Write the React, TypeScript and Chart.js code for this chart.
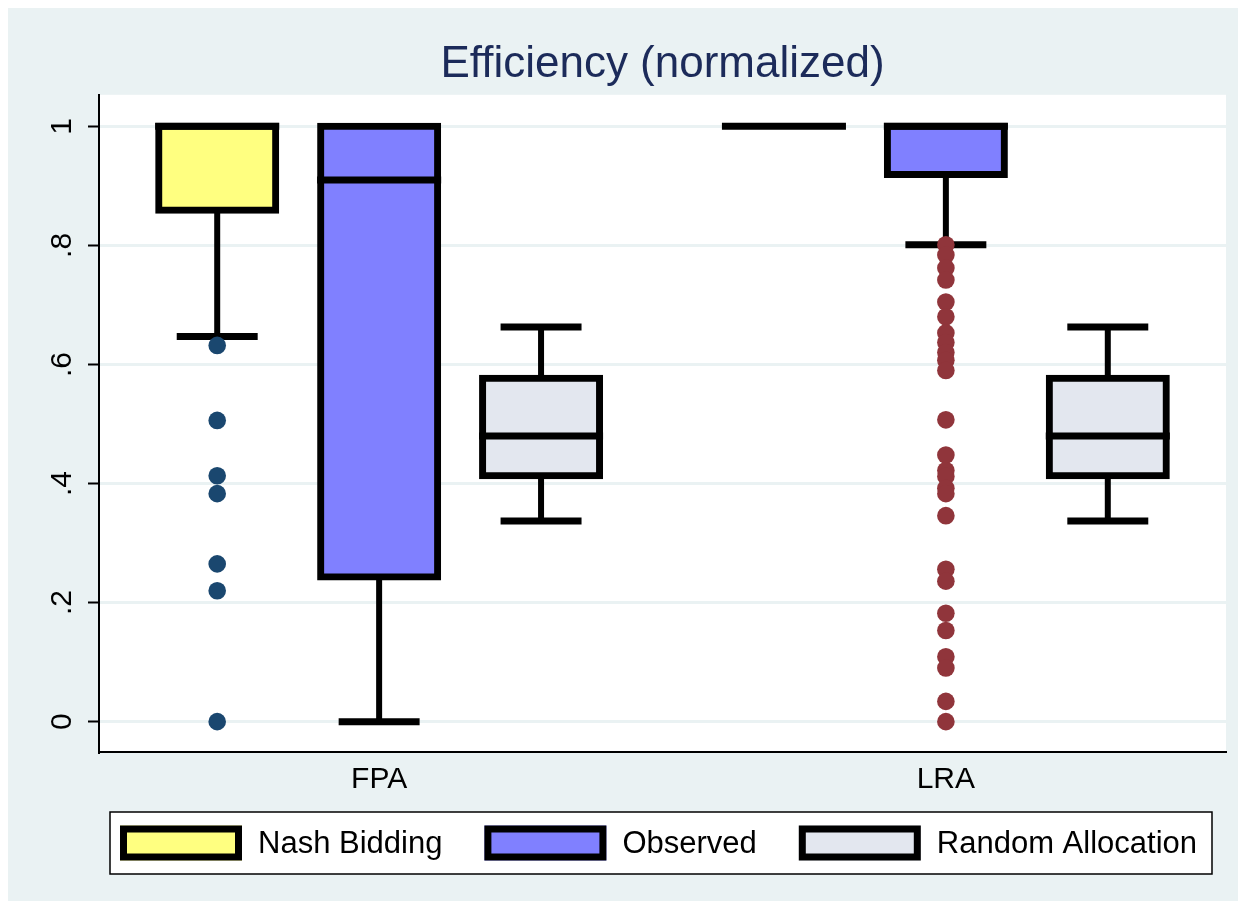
import React, { useEffect, useRef } from 'react';
import { Chart, registerables } from 'chart.js';

Chart.register(...registerables);

const FONT = "'Liberation Sans', Arial, Helvetica, sans-serif";

// categories on the x axis and their positions on the linear x scale
const CATEGORIES = ['FPA', 'LRA'];
const CATEGORY_POS = [2, 5.5];

// series (one box per category)
const SERIES = ['Nash Bidding', 'Observed', 'Random Allocation'];
const SERIES_OFFSET = [-1, 0, 1];
const SERIES_FILL = ['#ffff80', '#8080ff', '#e3e7ef'];

// box statistics, values are [FPA, LRA]
const NASH_LOW = [0.647, 1];
const NASH_Q1 = [0.859, 1];
const NASH_MED = [1, 1];
const NASH_Q3 = [1, 1];
const NASH_HIGH = [1, 1];

const OBS_LOW = [0, 0.801];
const OBS_Q1 = [0.243, 0.919];
const OBS_MED = [0.91, 1];
const OBS_Q3 = [1, 1];
const OBS_HIGH = [1, 1];

const RAND_LOW = [0.337, 0.337];
const RAND_Q1 = [0.413, 0.413];
const RAND_MED = [0.48, 0.48];
const RAND_Q3 = [0.577, 0.577];
const RAND_HIGH = [0.663, 0.663];

// outside values
const OUTLIERS_NASH_FPA = [0.632, 0.506, 0.413, 0.383, 0.265, 0.22, 0];
const OUTLIERS_OBS_LRA = [
  0.801, 0.784, 0.762, 0.742, 0.705, 0.68, 0.653, 0.637, 0.62, 0.607, 0.59,
  0.507, 0.448, 0.422, 0.412, 0.392, 0.383, 0.346, 0.256, 0.236, 0.182,
  0.153, 0.109, 0.09, 0.034, 0,
];
const OUTLIER_COLOR_FPA = '#1a476f';
const OUTLIER_COLOR_LRA = '#90353b';

// y axis
const Y_TICKS = [0, 0.2, 0.4, 0.6, 0.8, 1];
const Y_TICK_LABELS = ['0', '.2', '.4', '.6', '.8', '1'];
const Y_MIN = -0.051;
const Y_MAX = 1.053;
const X_MIN = 0.27;
const X_MAX = 7.23;

const TITLE = 'Efficiency (normalized)';

// geometry of box elements (in x-scale units / pixels)
const BOX_PX = 117;
const BOX_INFLATE = 3.5;
const BOX_HALF = 0.383;
const CAP_HALF = 0.25;

const STATS = [
  { low: NASH_LOW, q1: NASH_Q1, med: NASH_MED, q3: NASH_Q3, high: NASH_HIGH },
  { low: OBS_LOW, q1: OBS_Q1, med: OBS_MED, q3: OBS_Q3, high: OBS_HIGH },
  { low: RAND_LOW, q1: RAND_Q1, med: RAND_MED, q3: RAND_Q3, high: RAND_HIGH },
];

function buildDatasets(): any[] {
  const boxes = SERIES.map((name, s) => ({
    type: 'bar',
    label: name,
    order: 3,
    grouped: false,
    barThickness: BOX_PX,
    inflateAmount: BOX_INFLATE,
    data: CATEGORIES.map((_, c) => ({
      x: CATEGORY_POS[c] + SERIES_OFFSET[s],
      y: [STATS[s].q1[c], STATS[s].q3[c]],
    })),
    backgroundColor: SERIES_FILL[s],
    borderColor: '#000000',
    borderWidth: 7,
    borderSkipped: false,
  }));

  const whisker: any[] = [];
  const caps: any[] = [];
  const medians: any[] = [];
  SERIES.forEach((_, s) => {
    CATEGORIES.forEach((__, c) => {
      const x = CATEGORY_POS[c] + SERIES_OFFSET[s];
      const st = STATS[s];
      if (st.low[c] < st.q1[c]) {
        whisker.push({ x, y: st.q1[c] }, { x, y: st.low[c] }, { x, y: null });
        caps.push({ x: x - CAP_HALF, y: st.low[c] }, { x: x + CAP_HALF, y: st.low[c] }, { x, y: null });
      }
      if (st.high[c] > st.q3[c]) {
        whisker.push({ x, y: st.q3[c] }, { x, y: st.high[c] }, { x, y: null });
        caps.push({ x: x - CAP_HALF, y: st.high[c] }, { x: x + CAP_HALF, y: st.high[c] }, { x, y: null });
      }
      medians.push({ x: x - BOX_HALF, y: st.med[c] }, { x: x + BOX_HALF, y: st.med[c] }, { x, y: null });
    });
  });

  const lineBase = {
    type: 'line',
    borderColor: '#000000',
    pointRadius: 0,
    pointHoverRadius: 0,
    tension: 0,
    fill: false,
    spanGaps: false,
    borderCapStyle: 'butt',
  };

  return [
    {
      type: 'line',
      label: 'outliers FPA',
      order: 0,
      showLine: false,
      data: OUTLIERS_NASH_FPA.map((v) => ({ x: CATEGORY_POS[0] + SERIES_OFFSET[0], y: v })),
      pointRadius: 8.8,
      pointHoverRadius: 8.8,
      pointBorderWidth: 0,
      pointBackgroundColor: OUTLIER_COLOR_FPA,
      pointBorderColor: OUTLIER_COLOR_FPA,
    },
    {
      type: 'line',
      label: 'outliers LRA',
      order: 0,
      showLine: false,
      data: OUTLIERS_OBS_LRA.map((v) => ({ x: CATEGORY_POS[1] + SERIES_OFFSET[1], y: v })),
      pointRadius: 8.8,
      pointHoverRadius: 8.8,
      pointBorderWidth: 0,
      pointBackgroundColor: OUTLIER_COLOR_LRA,
      pointBorderColor: OUTLIER_COLOR_LRA,
    },
    { ...lineBase, label: 'medians', order: 1, borderWidth: 7, data: medians },
    { ...lineBase, label: 'caps', order: 2, borderWidth: 7, data: caps },
    { ...lineBase, label: 'whiskers', order: 2, borderWidth: 6, data: whisker },
    ...boxes,
  ];
}

const backgroundPlugin = {
  id: 'stataBackground',
  beforeDraw(chart: any) {
    const { ctx, chartArea, width, height } = chart;
    ctx.save();
    ctx.fillStyle = '#eaf2f3';
    ctx.fillRect(0, 0, width, height);
    ctx.fillStyle = '#ffffff';
    ctx.fillRect(chartArea.left, chartArea.top, chartArea.right - chartArea.left, chartArea.bottom - chartArea.top);
    ctx.restore();
  },
};

const yLabelPlugin = {
  id: 'rotatedYLabels',
  afterDraw(chart: any) {
    const { ctx } = chart;
    const ys = chart.scales.y;
    ctx.save();
    ctx.font = `30px ${FONT}`;
    ctx.fillStyle = '#000000';
    ctx.textAlign = 'center';
    ctx.textBaseline = 'alphabetic';
    const baseX = ys.right - 28;
    Y_TICKS.forEach((v, i) => {
      const py = ys.getPixelForValue(v);
      ctx.save();
      ctx.translate(baseX, py);
      ctx.rotate(-Math.PI / 2);
      ctx.fillText(Y_TICK_LABELS[i], 0, 0);
      ctx.restore();
    });
    ctx.restore();
  },
};

const legendPlugin = {
  id: 'boxLegend',
  afterDraw(chart: any) {
    const { ctx, chartArea } = chart;
    const xs = chart.scales.x;
    ctx.save();
    ctx.font = `31px ${FONT}`;
    const keyW = 122;
    const keyH = 35;
    const keyGap = 16;
    const itemGap = 42;
    const padL = 10;
    const padR = 15;
    const widths = SERIES.map((t) => ctx.measureText(t).width);
    const total =
      widths.reduce((a, w) => a + keyW + keyGap + w, 0) + itemGap * (SERIES.length - 1);
    const cx = (chartArea.left + chartArea.right) / 2 - 4;
    const frameTop = xs.bottom + 10;
    const frameH = 62;
    const cy = frameTop + frameH / 2;
    let x = cx - total / 2;

    // frame
    ctx.fillStyle = '#ffffff';
    ctx.fillRect(x - padL, frameTop, total + padL + padR, frameH);
    ctx.strokeStyle = '#000000';
    ctx.lineWidth = 1.5;
    ctx.strokeRect(x - padL, frameTop, total + padL + padR, frameH);

    SERIES.forEach((name, s) => {
      const top = cy - keyH / 2;
      ctx.fillStyle = SERIES_FILL[s];
      ctx.fillRect(x, top, keyW, keyH);
      ctx.strokeStyle = '#000000';
      ctx.lineWidth = 7;
      ctx.strokeRect(x + 3.5, top + 3.5, keyW - 7, keyH - 7);
      ctx.fillStyle = '#000000';
      ctx.textAlign = 'left';
      ctx.textBaseline = 'middle';
      ctx.fillText(name, x + keyW + keyGap, cy + 1);
      x += keyW + keyGap + widths[s] + itemGap;
    });
    ctx.restore();
  },
};

export default function App() {
  const ref = useRef<HTMLCanvasElement | null>(null);

  useEffect(() => {
    if (!ref.current) return;
    const chart = new Chart(ref.current, {
      type: 'bar',
      data: { datasets: buildDatasets() as any },
      plugins: [backgroundPlugin, yLabelPlugin, legendPlugin],
      options: {
        animation: false,
        responsive: false,
        events: [],
        layout: { padding: { left: 0, right: 12, top: 0, bottom: 99 } },
        plugins: {
          legend: { display: false },
          tooltip: { enabled: false },
          title: {
            display: true,
            text: TITLE,
            fullSize: false,
            color: '#1c2b5a',
            font: { family: FONT, size: 44, weight: 'normal' },
            padding: { top: 30, bottom: 4 },
          },
        },
        scales: {
          x: {
            type: 'linear',
            min: X_MIN,
            max: X_MAX,
            offset: false,
            grid: { display: false, drawTicks: false, offset: false },
            border: { display: true, color: '#000000', width: 2 },
            ticks: {
              color: '#000000',
              font: { family: FONT, size: 30 },
              padding: 10,
              autoSkip: false,
              maxRotation: 0,
              minRotation: 0,
              callback: (_v: any, i: number) => CATEGORIES[i],
            },
            afterBuildTicks: (s: any) => {
              s.ticks = CATEGORY_POS.map((v) => ({ value: v }));
            },
            afterFit: (s: any) => {
              s.height = 50;
            },
          },
          y: {
            type: 'linear',
            min: Y_MIN,
            max: Y_MAX,
            grid: {
              color: '#eaf2f3',
              lineWidth: 3,
              drawTicks: true,
              tickLength: 11,
              tickColor: '#000000',
              tickWidth: 2,
            },
            border: { display: true, color: '#000000', width: 2 },
            ticks: { display: false },
            afterBuildTicks: (s: any) => {
              s.ticks = Y_TICKS.map((v) => ({ value: v }));
            },
            afterFit: (s: any) => {
              s.width = 91;
            },
          },
        },
      } as any,
    });
    return () => chart.destroy();
  }, []);

  return <canvas ref={ref} width={1230} height={893} style={{ display: 'block' }} />;
}
